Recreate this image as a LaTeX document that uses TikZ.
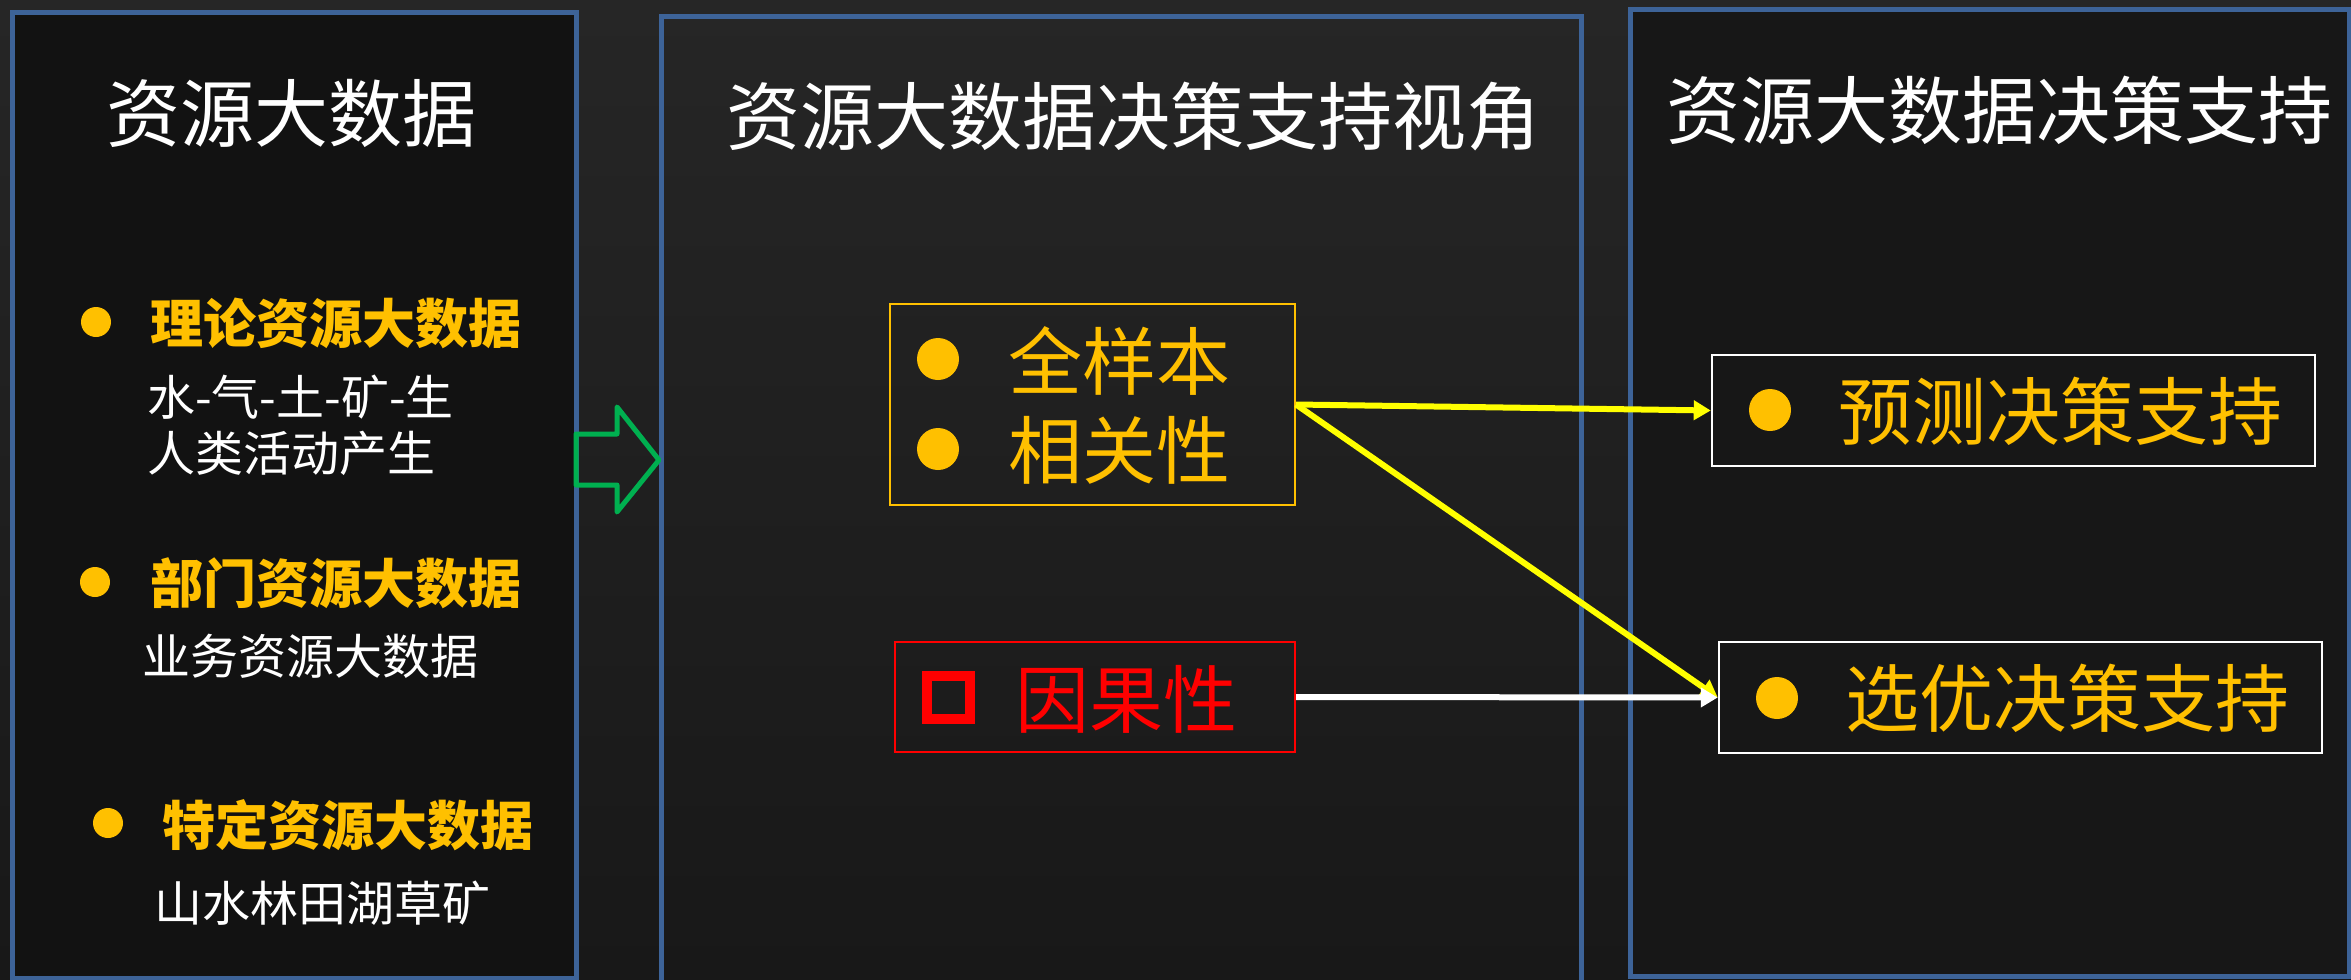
\documentclass[tikz,border=0pt]{standalone}
\usepackage{fontspec}
\newfontfamily\cjk{Noto Sans CJK SC}
\usetikzlibrary{arrows.meta}
\definecolor{gold}{HTML}{FFC000}
\definecolor{yel}{HTML}{FFFF00}
\definecolor{rred}{HTML}{FF0000}
\definecolor{grn}{HTML}{00B050}
\definecolor{pblue}{HTML}{3D6398}
\definecolor{bgtop}{HTML}{262626}
\definecolor{bgbot}{HTML}{181818}
\begin{document}
\begin{tikzpicture}[x=1pt,y=-1pt,
  panel/.style={draw=pblue, line width=5pt, inner sep=0},
  title/.style={text=white, font=\cjk\fontsize{74}{80}\selectfont, inner sep=0},
  item/.style={text=gold, font=\cjk\bfseries\fontsize{53}{60}\selectfont, anchor=west, inner sep=0},
  subtxt/.style={text=white, font=\cjk\fontsize{48}{54}\selectfont, anchor=west, inner sep=0},
  boxtxt/.style={font=\cjk\fontsize{74}{80}\selectfont, anchor=west, inner sep=0},
  smalldot/.style={circle, fill=gold, inner sep=0, minimum size=30pt},
  bigdot/.style={circle, fill=gold, inner sep=0, minimum size=42pt},
  yarrow/.style={draw=yel, line width=6pt, -{Triangle[length=17pt,width=19pt]}},
  warrow/.style={draw=white, line width=6pt, -{Triangle[length=17pt,width=19pt]}}
]
\path[use as bounding box] (0,0) rectangle (2351,980);
\clip (0,0) rectangle (2351,980);
\fill[top color=bgtop, bottom color=bgbot] (0,0) rectangle (2351,980);

% panels
\node[panel, fill=black!93, minimum width=564pt, minimum height=966pt] (p1) at (294,495) {};
\node[panel, minimum width=920pt, minimum height=1000pt] (p2) at (1121,516) {};
\node[panel, fill=black!91, minimum width=719pt, minimum height=967pt] (p3) at (1989.5,492.5) {};

% titles
\node[title] (t1) at (291,113) {资源大数据};
\node[title] (t2) at (1133,117) {资源大数据决策支持视角};
\node[title] (t3) at (1999,110) {资源大数据决策支持};

% left panel items
\node[smalldot] (b1) at (96,322) {};
\node[item] (i1) at (150,323) {理论资源大数据};
\node[subtxt] (s1a) at (147,397) {水-气-土-矿-生};
\node[subtxt] (s1b) at (147,453) {人类活动产生};
\node[smalldot] (b2) at (95,582) {};
\node[item] (i2) at (150,583) {部门资源大数据};
\node[subtxt] (s2) at (142,656) {业务资源大数据};
\node[smalldot] (b3) at (108,823) {};
\node[item] (i3) at (162,825) {特定资源大数据};
\node[subtxt] (s3) at (154,903) {山水林田湖草矿};

% green block arrow
\draw[grn, line width=5pt, line join=round]
  (576,434) -- (617,434) -- (617,407) -- (659,460) -- (617,512) -- (617,485) -- (576,485) -- cycle;

% middle boxes
\node[draw=gold, line width=2pt, minimum width=405pt, minimum height=201pt, inner sep=0] (corr) at (1092.5,404.5) {};
\node[bigdot] (cb1) at (938,359) {};
\node[boxtxt, text=gold] (ct1) at (1008,361) {全样本};
\node[bigdot] (cb2) at (938,449) {};
\node[boxtxt, text=gold] (ct2) at (1008,450) {相关性};

\node[draw=rred, line width=2pt, minimum width=400pt, minimum height=110pt, inner sep=0] (cause) at (1095,697) {};
\node[draw=rred, line width=10pt, minimum size=43pt, inner sep=0] (sq) at (948,697.5) {};
\node[boxtxt, text=rred] (cat) at (1015,699) {因果性};

% right boxes
\node[draw=white, line width=2.5pt, minimum width=603pt, minimum height=111pt, inner sep=0] (pred) at (2013.5,410.5) {};
\node[bigdot] (pb) at (1770,410) {};
\node[boxtxt, text=gold] (pt) at (1838,411) {预测决策支持};

\node[draw=white, line width=2.5pt, minimum width=603pt, minimum height=111pt, inner sep=0] (sel) at (2020.5,697.5) {};
\node[bigdot] (sb) at (1777,698) {};
\node[boxtxt, text=gold] (st) at (1845,698) {选优决策支持};

% connectors
\draw[yarrow] (corr.east) -- (pred.west);
\draw[yarrow] (corr.east) -- (sel.west);
\draw[warrow] (cause.east) -- (sel.west);
\end{tikzpicture}
\end{document}
